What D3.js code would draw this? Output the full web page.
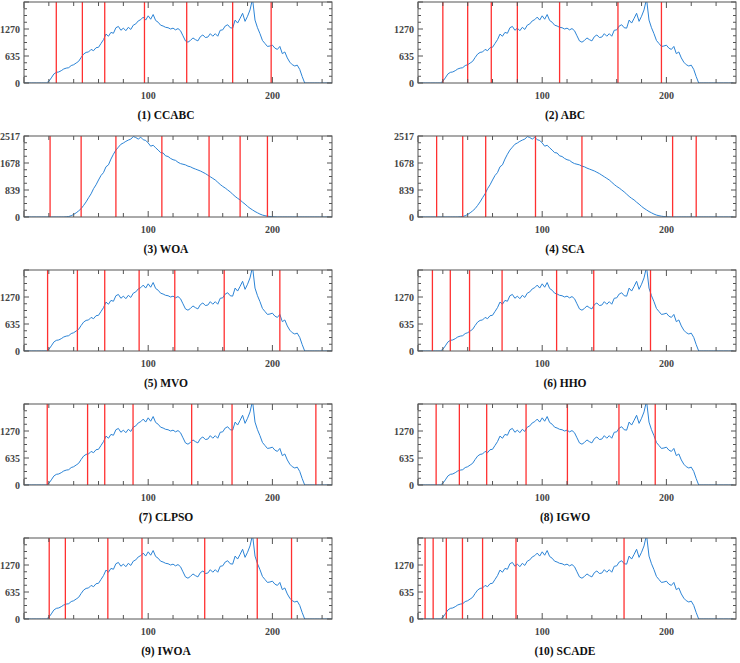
<!DOCTYPE html>
<html>
<head>
<meta charset="utf-8">
<script src="https://cdn.jsdelivr.net/npm/d3@7"></script>
<style>
  body { margin: 0; background: #fff; }
  svg { display: block; }
  .tick-label { font-family: "Liberation Serif", "DejaVu Serif", serif; font-weight: bold; font-size: 10px; fill: #444; }
  .title { font-family: "Liberation Serif", "DejaVu Serif", serif; font-weight: bold; font-size: 11.5px; fill: #111; }
</style>
</head>
<body>
<div id="chart"></div>
<script>
'use strict';

// panel titles, in reading order
var titles = ['(1) CCABC', '(2) ABC', '(3) WOA', '(4) SCA', '(5) MVO',
              '(6) HHO', '(7) CLPSO', '(8) IGWO', '(9) IWOA', '(10) SCADE'];

// which histogram each panel shows
var histKind = ['A', 'A', 'B', 'B', 'A', 'A', 'A', 'A', 'A', 'A'];

// grey levels sampled every 2 (0..254)
var levels = d3.range(0, 256, 2);

// histogram of image A (bimodal)
var histA = [
  0, 0, 0, 0, 0, 0, 0, 0, 0, 0,
  40, 120, 210, 250, 260, 290, 330, 350, 360, 410,
  430, 470, 510, 600, 680, 720, 730, 790, 760, 830,
  840, 930, 1020, 1150, 1100, 1190, 1170, 1300, 1330, 1240,
  1290, 1230, 1310, 1260, 1360, 1390, 1460, 1490, 1550, 1480,
  1580, 1500, 1610, 1470, 1430, 1360, 1340, 1310, 1300, 1270,
  1290, 1250, 1280, 1230, 1110, 990, 960, 1000, 1060, 1020,
  990, 1090, 1130, 1070, 1080, 1160, 1100, 1160, 1100, 1240,
  1250, 1340, 1370, 1300, 1290, 1480, 1410, 1520, 1640, 1450,
  1570, 1720, 1980, 1480, 1300, 1160, 1000, 930, 860, 870,
  890, 820, 790, 860, 690, 730, 590, 490, 430, 400,
  420, 320, 150, 0, 0, 0, 0, 0, 0, 0,
  0, 0, 0, 0, 0, 0, 0, 0
];

// histogram of image B (unimodal)
var histB = [
  0, 0, 0, 0, 0, 0, 0, 0, 0, 0,
  0, 0, 0, 0, 0, 0, 0, 5, 15, 40,
  80, 130, 190, 260, 360, 470, 600, 720, 880, 1000,
  1150, 1290, 1380, 1560, 1620, 1800, 1950, 2080, 2170, 2260,
  2300, 2350, 2390, 2420, 2500, 2470, 2420, 2480, 2400, 2380,
  2300, 2200, 2230, 2150, 2080, 2000, 1990, 1900, 1880, 1820,
  1780, 1760, 1700, 1660, 1640, 1620, 1580, 1560, 1520, 1490,
  1460, 1430, 1390, 1350, 1300, 1250, 1200, 1150, 1080, 1010,
  950, 900, 840, 780, 710, 640, 580, 530, 460, 400,
  330, 270, 220, 170, 130, 90, 60, 40, 25, 15,
  8, 3, 0, 0, 0, 0, 0, 0, 0, 0,
  0, 0, 0, 0, 0, 0, 0, 0, 0, 0,
  0, 0, 0, 0, 0, 0, 0, 0
];

// y axis tick labels per histogram
var yTicksA = [0, 635, 1270];
var yTicksB = [0, 839, 1678, 2517];
var yMaxA = 1905, yMaxB = 2517;

// thresholds found by each algorithm
var thresholds = [
  [26, 47, 65, 97, 131, 168, 199],
  [20, 40, 59, 80, 114, 161, 196],
  [21, 46, 74, 111, 149, 174, 196],
  [15, 36, 54.5, 94.6, 132, 205, 224],
  [19, 43, 65, 92.7, 121.4, 161.2, 206],
  [11.6, 26, 41.5, 67.7, 111.6, 141.5, 187.2],
  [18.7, 51.2, 65, 87.8, 135, 167.5, 235],
  [14.6, 33.3, 55.3, 87, 120.3, 161.8, 191],
  [20.3, 33.3, 67.5, 95, 145.5, 187.8, 215.4],
  [5.7, 12.2, 22.8, 35.8, 52, 78.9, 165.9]
];

var width = 740, height = 663;
var pxPerLevel = 1.242;
var colX = [24, 418], colW = [308, 318], titleX = [166, 565];
var rowTop = 2, rowStep = 134, plotH = 81;

var svg = d3.select('#chart').append('svg')
  .attr('width', width)
  .attr('height', height);

titles.forEach(function (title, i) {
  var col = i % 2, row = Math.floor(i / 2);
  var x0 = colX[col], y0 = rowTop + row * rowStep;
  var isA = histKind[i] === 'A';
  var counts = isA ? histA : histB;
  var yMax = isA ? yMaxA : yMaxB;
  var yTicks = isA ? yTicksA : yTicksB;

  var x = d3.scaleLinear().domain([0, colW[col] / pxPerLevel]).range([x0, x0 + colW[col]]);
  var y = d3.scaleLinear().domain([0, yMax]).range([y0 + plotH, y0]);

  var g = svg.append('g');
  var clipId = 'clip' + i;
  g.append('clipPath').attr('id', clipId)
    .append('rect').attr('x', x0).attr('y', y0).attr('width', colW[col]).attr('height', plotH);

  var plot = g.append('g').attr('clip-path', 'url(#' + clipId + ')');

  var line = d3.line()
    .x(function (d, k) { return x(levels[k]); })
    .y(function (d) { return y(d); });

  plot.append('path')
    .datum(counts)
    .attr('d', line)
    .attr('fill', 'none')
    .attr('stroke', '#2c84d6')
    .attr('stroke-width', 1);

  plot.selectAll('.thr')
    .data(thresholds[i])
    .enter()
    .append('line')
      .classed('thr', 1)
      .attr('x1', function (d) { return x(d); })
      .attr('x2', function (d) { return x(d); })
      .attr('y1', y0)
      .attr('y2', y0 + plotH)
      .attr('stroke', '#ff3030')
      .attr('stroke-width', 1.3);

  // x ticks every 20, top and bottom, pointing inward
  var xt = d3.range(0, x.domain()[1] + 0.01, 20);
  g.selectAll('.xtb').data(xt).enter().append('line')
    .attr('x1', function (d) { return x(d); }).attr('x2', function (d) { return x(d); })
    .attr('y1', y0 + plotH).attr('y2', function (d) { return y0 + plotH - (d % 100 === 0 ? 6 : 4); })
    .attr('stroke', '#555');
  g.selectAll('.xtt').data(xt).enter().append('line')
    .attr('x1', function (d) { return x(d); }).attr('x2', function (d) { return x(d); })
    .attr('y1', y0).attr('y2', function (d) { return y0 + (d % 100 === 0 ? 6 : 4); })
    .attr('stroke', '#555');

  g.selectAll('.xl').data([100, 200]).enter().append('text')
    .attr('class', 'tick-label')
    .attr('x', function (d) { return x(d); })
    .attr('y', y0 + plotH + 16)
    .attr('text-anchor', 'middle')
    .text(function (d) { return d; });

  // y ticks: majors at labels, 3 minors between
  var yt = d3.range(0, 13).map(function (k) { return yMax * k / 12; });
  g.selectAll('.ytl').data(yt).enter().append('line')
    .attr('x1', x0).attr('x2', function (d, k) { return x0 + (k % 4 === 0 ? 5 : 3); })
    .attr('y1', function (d) { return y(d); }).attr('y2', function (d) { return y(d); })
    .attr('stroke', '#555');
  g.selectAll('.ytr').data(yt).enter().append('line')
    .attr('x1', x0 + colW[col]).attr('x2', function (d, k) { return x0 + colW[col] - (k % 4 === 0 ? 5 : 3); })
    .attr('y1', function (d) { return y(d); }).attr('y2', function (d) { return y(d); })
    .attr('stroke', '#555');

  g.selectAll('.yl').data(yTicks).enter().append('text')
    .attr('class', 'tick-label')
    .attr('x', x0 - 4)
    .attr('y', function (d) { return y(d) + 3.5; })
    .attr('text-anchor', 'end')
    .text(function (d) { return d; });

  // frame
  g.append('rect')
    .attr('x', x0).attr('y', y0).attr('width', colW[col]).attr('height', plotH)
    .attr('fill', 'none').attr('stroke', '#555').attr('stroke-width', 1);

  g.append('text')
    .attr('class', 'title')
    .attr('x', titleX[col])
    .attr('y', y0 + plotH + 36)
    .attr('text-anchor', 'middle')
    .text(title);
});
</script>
</body>
</html>
